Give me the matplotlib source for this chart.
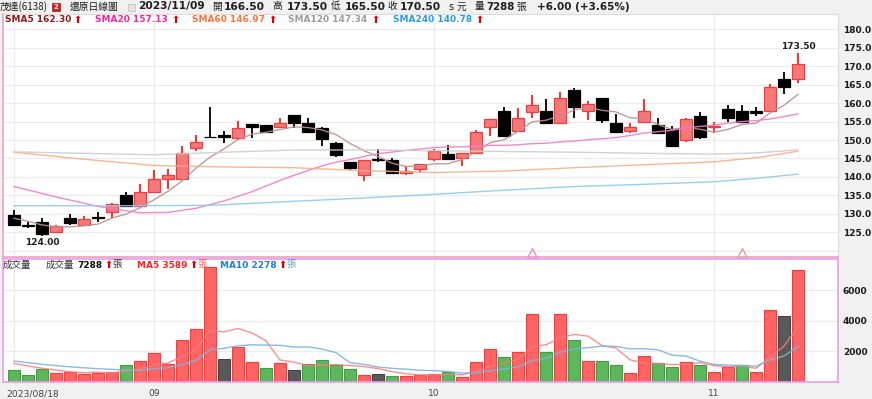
import matplotlib
matplotlib.use("Agg")
from matplotlib import pyplot as plt
from matplotlib import transforms
from matplotlib.patches import Rectangle
import numpy as np
import pandas as pd

# 茂達(6138) 還原日線圖, daily bars 2023/08/18 .. 2023/11/09
trade_date = "2023/11/09"
tick_idx = [0, 10, 30, 50]
tick_labels = ["2023/08/18", "09", "10", "11"]

opens = [129.7, 127.0, 127.9, 125.0, 128.8, 127.0, 129.1, 130.6, 135.1, 132.0,
         136.0, 139.5, 139.5, 147.9, 150.8, 151.3, 150.5, 154.3, 154.0, 153.4,
         156.8, 154.5, 153.2, 149.1, 144.0, 140.5, 144.8, 144.6, 141.2, 142.1,
         144.8, 146.2, 145.0, 146.6, 153.6, 157.9, 152.5, 157.6, 157.9, 154.7,
         163.5, 157.9, 161.5, 154.5, 152.5, 155.0, 154.0, 152.9, 150.0, 156.5,
         153.5, 158.3, 157.9, 158.0, 157.8, 166.5, 166.5]
highs = [131.1, 127.9, 129.0, 127.0, 129.9, 129.5, 130.4, 133.0, 136.0, 138.0,
         141.9, 142.2, 148.5, 151.5, 159.0, 152.4, 155.1, 154.3, 154.0, 156.0,
         156.8, 156.1, 153.5, 149.5, 144.0, 144.6, 147.6, 145.0, 143.0, 143.5,
         147.5, 148.6, 146.6, 152.8, 155.6, 159.0, 158.6, 162.2, 161.0, 163.0,
         164.0, 160.6, 161.5, 157.0, 154.5, 161.0, 155.9, 153.8, 155.9, 157.7,
         155.0, 159.5, 159.5, 159.0, 165.1, 168.5, 173.5]
lows = [127.0, 126.1, 124.0, 124.7, 127.0, 127.0, 127.9, 128.8, 132.0, 132.0,
        136.0, 136.7, 139.5, 147.0, 150.5, 149.1, 150.0, 150.5, 152.1, 153.4,
        153.2, 152.0, 148.5, 145.5, 141.9, 139.0, 144.1, 141.0, 140.5, 141.4,
        144.3, 144.8, 143.0, 146.6, 151.1, 151.1, 152.5, 156.1, 154.5, 154.5,
        156.1, 155.4, 154.5, 152.0, 152.0, 154.5, 152.0, 148.4, 149.5, 150.3,
        152.0, 155.0, 155.0, 156.5, 157.8, 162.5, 165.5]
closes = [127.0, 126.8, 124.5, 126.6, 127.5, 128.6, 129.0, 132.6, 132.0, 136.0,
          139.5, 140.5, 146.4, 149.5, 150.8, 150.8, 153.2, 153.6, 152.1, 154.5,
          154.5, 152.3, 150.2, 146.0, 142.4, 144.6, 144.6, 141.0, 141.5, 143.5,
          147.1, 144.8, 146.6, 152.3, 155.6, 151.1, 156.1, 159.5, 154.5, 161.5,
          159.0, 159.9, 155.4, 152.3, 153.6, 157.9, 152.0, 148.4, 155.6, 150.7,
          153.9, 155.9, 155.0, 157.3, 164.5, 164.5, 170.5]
volumes = [754, 426, 820, 579, 600, 480, 557, 623, 1082, 1366,
           1847, 1147, 2721, 3443, 7500, 1475, 2242, 1259, 885, 1193,
           754, 1167, 1390, 1082, 820, 446, 511, 380, 380, 426,
           511, 623, 315, 1300, 2150, 1607, 1913, 4448, 1913, 4426,
           2721, 1366, 1366, 1104, 557, 1650, 1235, 960, 1270, 1100,
           600, 950, 1060, 623, 4700, 4280, 7288]
close_before = 129.5  # session before the first bar

sma5_lead_idx = [0, 1, 2, 3]
sma5_lead_val = [128.8, 128.0, 127.0, 126.5]
sma20_lead_idx = [0, 3, 6, 9, 11, 13, 15, 17]
sma20_lead_val = [137.4, 134.6, 132.0, 130.3, 130.4, 131.5, 133.5, 136.0]
sma60_idx = [0, 5, 10, 15, 20, 25, 30, 35, 40, 45, 50, 53, 56]
sma60_val = [146.7, 144.8, 143.1, 142.7, 142.5, 141.7, 141.2, 141.6, 142.5, 143.3, 144.1, 145.2, 146.97]
sma120_idx = [0, 5, 10, 15, 20, 25, 30, 35, 40, 45, 50, 53, 56]
sma120_val = [146.8, 146.4, 146.0, 146.7, 147.3, 147.3, 147.1, 146.9, 146.7, 146.4, 146.2, 146.5, 147.34]
sma240_idx = [0, 8, 14, 20, 25, 30, 35, 40, 45, 50, 53, 56]
sma240_val = [132.2, 132.2, 132.3, 133.4, 134.3, 135.3, 136.4, 137.4, 138.0, 138.7, 139.6, 140.78]
vol_ma5_lead_idx = [0, 1, 2, 3]
vol_ma5_lead_val = [1190, 1020, 870, 750]
vol_ma10_lead_idx = [0, 2, 4, 6, 8]
vol_ma10_lead_val = [1340, 1130, 960, 840, 750]

sma_names = ["SMA5", "SMA20", "SMA60", "SMA120", "SMA240"]
sma_last = [162.30, 157.13, 146.97, 147.34, 140.78]
vol_ma_last = [3589, 2278]
event_idx = [37, 52]

W, H = 872, 399
CJK = ["Noto Sans CJK TC", "DejaVu Sans"]
ARROW = "⬆"

RED_FACE, RED_EDGE, RED_WICK = "#f67878", "#f23c3c", "#ff1c1c"
SMA_LINE = ["#c08e8e", "#f07ccb", "#f8ae88", "#cdcdcd", "#8ccaef"]
SMA_TEXT = ["#8b1e1e", "#ec2aa0", "#f4763a", "#9c9c9c", "#2b9be0"]
GRID = "#ececec"


def _ma_line(values, window, lead_idx, lead_val):
    rolled = pd.Series(values, dtype=float).rolling(window).mean().to_numpy()
    xs = list(lead_idx) + list(range(window - 1, len(values)))
    ys = list(lead_val) + list(rolled[window - 1:])
    return xs, ys


def fx(px):
    return px / W


def fy(py):
    return 1 - py / H


def _grid(ax, levels):
    for lv in levels:
        ax.axhline(lv, color=GRID, lw=0.9, zorder=0)
    for i in tick_idx:
        ax.axvline(i, color=GRID, lw=0.9, zorder=0)


def _plot_candles(ax):
    x = np.arange(len(closes))
    o, h, l, c = (np.array(a) for a in (opens, highs, lows, closes))
    up = c > o
    bottom = np.minimum(o, c)
    height = np.abs(c - o)
    ax.vlines(x[up], l[up], h[up], color=RED_WICK, lw=1.3, zorder=2)
    ax.vlines(x[~up], l[~up], h[~up], color="black", lw=1.3, zorder=2)
    ax.bar(x[up], height[up], bottom=bottom[up], width=0.84,
           color=RED_FACE, edgecolor=RED_EDGE, lw=0.9, zorder=3)
    ax.bar(x[~up], np.maximum(height[~up], 0.12), bottom=bottom[~up], width=0.84,
           color="black", edgecolor="black", lw=0.9, zorder=3)

    lines = [
        _ma_line(closes, 5, sma5_lead_idx, sma5_lead_val),
        _ma_line(closes, 20, sma20_lead_idx, sma20_lead_val),
        (sma60_idx, sma60_val),
        (sma120_idx, sma120_val),
        (sma240_idx, sma240_val),
    ]
    for (xs, ys), col in zip(lines, SMA_LINE):
        ax.plot(xs, ys, color=col, lw=1.0, alpha=0.9, zorder=4)

    imax = int(np.argmax(h))
    imin = int(np.argmin(l))
    ax.text(imax, h[imax] + 0.6, f"{h[imax]:.2f}", ha="center", va="bottom",
            fontsize=6.5, fontweight="bold", color="#222222")
    ax.text(imin, l[imin] - 0.5, f"{l[imin]:.2f}", ha="center", va="top",
            fontsize=6.5, fontweight="bold", color="#222222")

    for i, col in zip(event_idx, ["#f08ad0", "#d4a4a4"]):
        ax.plot([i], [119.3], marker="^", ms=7, mfc="none", mec=col, mew=1.0,
                clip_on=False, zorder=5)


def _plot_volume(ax):
    x = np.arange(len(volumes))
    c = np.array(closes)
    prev = np.concatenate([[close_before], c[:-1]])
    diff = np.round(c - prev, 2)
    groups = [
        (diff > 0, "#ff6464", "#ff3a3a"),
        (diff < 0, "#5db75d", "#3f9e3f"),
        (diff == 0, "#595959", "#444444"),
    ]
    v = np.array(volumes)
    for mask, face, edge in groups:
        ax.bar(x[mask], v[mask], width=0.9, color=face, edgecolor=edge, lw=0.8, zorder=2)

    xs, ys = _ma_line(volumes, 5, vol_ma5_lead_idx, vol_ma5_lead_val)
    ax.plot(xs, ys, color="#ff7a7a", lw=1.0, alpha=0.85, zorder=3)
    xs, ys = _ma_line(volumes, 10, vol_ma10_lead_idx, vol_ma10_lead_val)
    ax.plot(xs, ys, color="#7ab4e0", lw=1.0, alpha=0.9, zorder=3)

    trans = transforms.blended_transform_factory(ax.transData, ax.transAxes)
    for i, lab in zip(tick_idx, tick_labels):
        if i == tick_idx[0]:
            ax.text(ax.get_xlim()[0] + 0.3, -0.1, lab, transform=trans, ha="left",
                    va="center", fontsize=6.6, color="#444444", clip_on=False)
        else:
            ax.text(i, -0.1, lab, transform=trans, ha="center", va="center",
                    fontsize=6.6, color="#444444", clip_on=False)


def _arrow(fig, x, y):
    fig.text(fx(x), y, ARROW, fontsize=7, color="#e00000", va="center")


def _header(fig):
    yc = fy(6.5)
    kw = dict(va="center", color="#1e1e1e")
    fig.text(fx(0), yc, "茂達(6138)", family=CJK, fontsize=7, **kw)
    fig.patches.append(Rectangle((fx(52), fy(11)), fx(8), 8 / H, transform=fig.transFigure,
                                 facecolor="#d42020", edgecolor="#a01010", lw=0.5))
    fig.text(fx(56), fy(6.8), "2", ha="center", va="center", fontsize=5,
             fontweight="bold", color="white")
    fig.text(fx(70), yc, "還原日線圖", family=CJK, fontsize=7, **kw)
    fig.patches.append(Rectangle((fx(128), fy(10.5)), fx(7), 7 / H, transform=fig.transFigure,
                                 facecolor="#e4e4e4", edgecolor="#c4c4c4", lw=0.6))
    fig.text(fx(138), yc, trade_date, fontsize=7.7, fontweight="bold", **kw)

    items = [("開", 212, opens[-1], 224), ("高", 272, highs[-1], 287),
             ("低", 331, lows[-1], 345), ("收", 387, closes[-1], 400)]
    for ch, xc, val, xv in items:
        fig.text(fx(xc), yc, ch, family=CJK, fontsize=7, **kw)
        fig.text(fx(xv), yc, f"{val:.2f}", fontsize=7.7, fontweight="bold", **kw)
    fig.text(fx(448), yc, "s", fontsize=7, **kw)
    fig.text(fx(457), yc, "元", family=CJK, fontsize=7, **kw)
    fig.text(fx(475), yc, "量", family=CJK, fontsize=7, **kw)
    fig.text(fx(486), yc, f"{volumes[-1]}", fontsize=7.4, fontweight="bold", **kw)
    fig.text(fx(516), yc, "張", family=CJK, fontsize=7, **kw)
    chg = closes[-1] - closes[-2]
    pct = chg / closes[-2] * 100
    fig.text(fx(537), yc, f"{chg:+.2f} ({pct:+.2f}%)", fontsize=7.5, fontweight="bold", **kw)

    # moving-average legend inside the price panel
    yl = fy(20)
    for name, val, col, xt, xa in zip(sma_names, sma_last, SMA_TEXT,
                                      [5, 95, 192, 288, 393], [73, 171, 268, 371, 475]):
        fig.text(fx(xt), yl, f"{name} {val:.2f}", fontsize=6.5, fontweight="bold",
                 color=col, va="center")
        _arrow(fig, xa, yl)

    yv = fy(265)
    fig.text(fx(3), yv, "成交量", family=CJK, fontsize=6.8, color="#333333", va="center")
    fig.text(fx(46), yv, "成交量", family=CJK, fontsize=6.8, color="#333333", va="center")
    fig.text(fx(77), yv, f"{volumes[-1]}", fontsize=6.5, fontweight="bold", color="#111111", va="center")
    _arrow(fig, 104, yv)
    fig.text(fx(112), yv, "張", family=CJK, fontsize=6.8, color="#333333", va="center")
    for name, val, col, xt, xa in zip(["MA5", "MA10"], vol_ma_last, ["#ff2424", "#1f80d0"],
                                      [137, 220], [189, 278]):
        fig.text(fx(xt), yv, f"{name} {val}", fontsize=6.5, fontweight="bold", color=col, va="center")
        _arrow(fig, xa, yv)
        fig.text(fx(xa + 8), yv, "張", family=CJK, fontsize=6.8, color=col, alpha=0.7, va="center")


def main():
    plt.rcParams["font.family"] = ["DejaVu Sans"]
    fig = plt.figure(figsize=(W / 100, H / 100), dpi=100, facecolor="#f1f1f1")

    left, right = 2.5, 838
    xlim = ((left - 14) / 14, (right - 14) / 14)

    ax_p = fig.add_axes([fx(left), fy(257), (right - left) / W, (257 - 14) / H])
    ax_v = fig.add_axes([fx(left), fy(381.5), (right - left) / W, (381.5 - 259) / H])

    for ax in (ax_p, ax_v):
        ax.set_facecolor("white")
        ax.set_xlim(xlim)
        ax.set_xticks([])
        ax.yaxis.tick_right()
        ax.tick_params(axis="y", length=0, pad=3.5, labelsize=6.5, labelcolor="#1a1a1a")

    ax_p.set_ylim(118.31, 184.15)
    _grid(ax_p, np.arange(120, 181, 5))
    ax_p.set_yticks(np.arange(125, 181, 5))
    ax_p.set_yticklabels([f"{v:.1f}" for v in np.arange(125, 181, 5)], fontweight="bold")
    for side in ("top", "right"):
        ax_p.spines[side].set_color("#dcdcdc")
    for side in ("left", "bottom"):
        ax_p.spines[side].set_color("#e8a2c4")
        ax_p.spines[side].set_linewidth(1.2)
    _plot_candles(ax_p)

    ax_v.set_ylim(0, 8033)
    _grid(ax_v, [2000, 4000, 6000])
    ax_v.set_yticks([2000, 4000, 6000])
    ax_v.set_yticklabels(["2000", "4000", "6000"], fontweight="bold")
    for sp in ax_v.spines.values():
        sp.set_color("#ee9cee")
        sp.set_linewidth(1.2)
    _plot_volume(ax_v)

    _header(fig)
    fig.savefig("out.png", dpi=100, facecolor=fig.get_facecolor())


main()
